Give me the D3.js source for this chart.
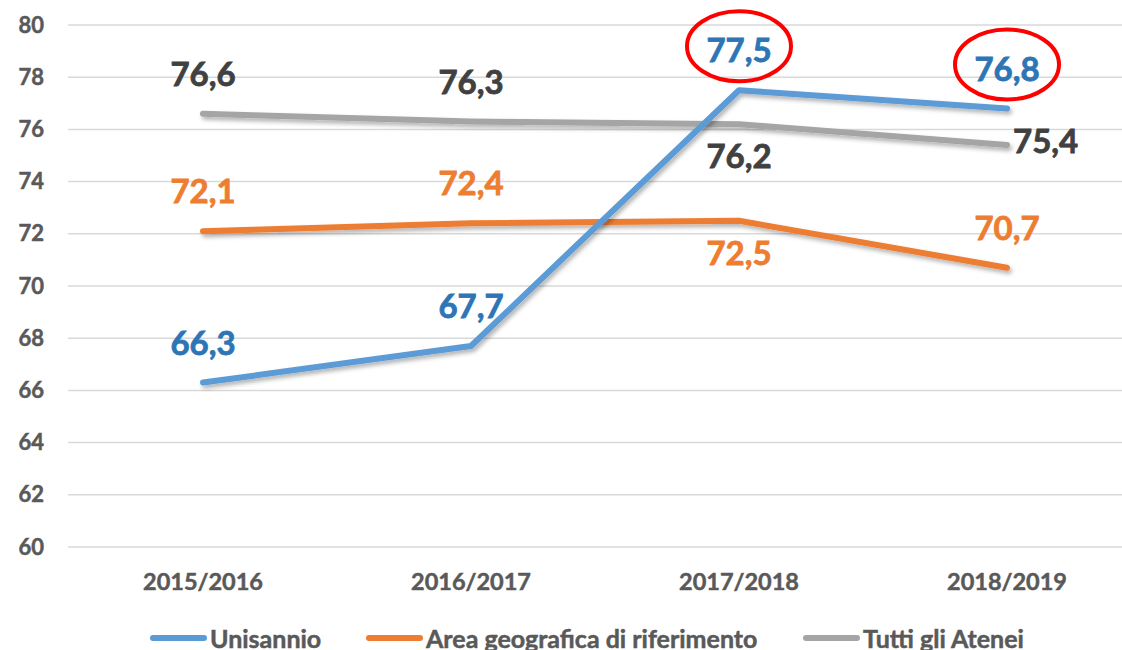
<!DOCTYPE html>
<html>
<head>
<meta charset="utf-8">
<script src="https://cdn.jsdelivr.net/npm/d3@7"></script>
<style>
  html, body { margin: 0; padding: 0; background: #fff; }
  svg { display: block; font-family: Lato, "Open Sans", sans-serif; font-weight: bold; }
</style>
</head>
<body>
<svg id="chart" width="1122" height="650"></svg>
<script>
// data
const years = ['2015/2016', '2016/2017', '2017/2018', '2018/2019'];
const unisannio = [66.3, 67.7, 77.5, 76.8];
const areaGeografica = [72.1, 72.4, 72.5, 70.7];
const tuttiAtenei = [76.6, 76.3, 76.2, 75.4];
const seriesNames = ['Unisannio', 'Area geografica di riferimento', 'Tutti gli Atenei'];
const yTicks = [60, 62, 64, 66, 68, 70, 72, 74, 76, 78, 80];

// where each value label sits relative to its point
const labelPlacement = [
  ['above', 'above', 'above', 'above'],
  ['above', 'above', 'below', 'above'],
  ['above', 'above', 'below', 'right']
];
// labels circled in red (series index, point index)
const circled = [[0, 2], [0, 3]];

const lineColors = ['#5B9BD5', '#ED7D31', '#A5A5A5'];
const textColors = ['#2E75B6', '#ED7D31', '#404040'];

const svg = d3.select('#chart');

const x = d3.scaleBand().domain(years).range([69, 1141]);
const y = d3.scaleLinear().domain([60, 80]).range([547, 25]);

const defs = svg.append('defs');
defs.append('filter')
  .attr('id', 'shadow')
  .attr('x', '-10%').attr('y', '-50%')
  .attr('width', '120%').attr('height', '200%')
  .append('feDropShadow')
  .attr('dx', 2).attr('dy', 3)
  .attr('stdDeviation', 2)
  .attr('flood-color', '#000')
  .attr('flood-opacity', 0.3);

// gridlines
svg.append('g')
  .selectAll('line')
  .data(yTicks)
  .join('line')
  .attr('x1', 68).attr('x2', 1122)
  .attr('y1', d => y(d)).attr('y2', d => y(d))
  .attr('stroke', '#d9d9d9')
  .attr('stroke-width', 1.5);

// y axis labels
const yAxis = svg.append('g')
  .attr('transform', 'translate(44,0)')
  .call(d3.axisLeft(y).tickValues(yTicks).tickSize(0).tickPadding(0));
yAxis.select('.domain').remove();
yAxis.selectAll('text')
  .attr('fill', '#595959')
  .attr('stroke', '#595959')
  .attr('stroke-width', 0.5)
  .style('font-family', 'Lato, sans-serif')
  .style('font-weight', 'bold')
  .style('font-size', '22px');

// x axis labels
const xAxis = svg.append('g')
  .attr('transform', 'translate(0,570)')
  .call(d3.axisBottom(x).tickSize(0).tickPadding(0));
xAxis.select('.domain').remove();
xAxis.selectAll('text')
  .attr('fill', '#595959')
  .attr('stroke', '#595959')
  .attr('stroke-width', 0.5)
  .attr('dy', '0.85em')
  .style('font-family', 'Lato, sans-serif')
  .style('font-weight', 'bold')
  .style('font-size', '23.5px');

const allSeries = [unisannio, areaGeografica, tuttiAtenei];
const px = d => x(d) + x.bandwidth() / 2;

const line = d3.line()
  .x((d, i) => px(years[i]))
  .y(d => y(d));

// draw grey first, then orange, then blue on top
[2, 1, 0].forEach(s => {
  svg.append('path')
    .datum(allSeries[s])
    .attr('d', line)
    .attr('fill', 'none')
    .attr('stroke', lineColors[s])
    .attr('stroke-width', 6)
    .attr('stroke-linecap', 'round')
    .attr('stroke-linejoin', 'round')
    .attr('filter', 'url(#shadow)');
});

function labelPos(s, i) {
  const cx = px(years[i]);
  const cy = y(allSeries[s][i]);
  const p = labelPlacement[s][i];
  if (p === 'below') return { x: cx, y: cy + 44, anchor: 'middle' };
  if (p === 'right') return { x: cx + 6, y: cy + 8, anchor: 'start' };
  return { x: cx, y: cy - 28, anchor: 'middle' };
}

allSeries.forEach((vals, s) => {
  vals.forEach((v, i) => {
    const pos = labelPos(s, i);
    svg.append('text')
      .attr('x', pos.x)
      .attr('y', pos.y)
      .attr('text-anchor', pos.anchor)
      .attr('fill', textColors[s])
      .attr('stroke', textColors[s])
      .attr('stroke-width', 0.8)
      .style('font-size', '33px')
      .text(d3.format('.1f')(v).replace('.', ','));
  });
});

// red ellipses
circled.forEach(([s, i]) => {
  const pos = labelPos(s, i);
  svg.append('ellipse')
    .attr('cx', pos.x)
    .attr('cy', pos.y - 16)
    .attr('rx', 52)
    .attr('ry', 35)
    .attr('fill', 'none')
    .attr('stroke', '#ff0000')
    .attr('stroke-width', 4);
});

// legend
const legendX = [150, 366, 803];
const legend = svg.append('g');
seriesNames.forEach((name, s) => {
  legend.append('line')
    .attr('x1', legendX[s] + 3).attr('x2', legendX[s] + 54)
    .attr('y1', 638).attr('y2', 638)
    .attr('stroke', lineColors[s])
    .attr('stroke-width', 6)
    .attr('stroke-linecap', 'round');
  legend.append('text')
    .attr('x', legendX[s] + 60)
    .attr('y', 648)
    .attr('fill', '#595959')
    .attr('stroke', '#595959')
    .attr('stroke-width', 0.5)
    .style('font-size', '25px')
    .text(name);
});
</script>
</body>
</html>
